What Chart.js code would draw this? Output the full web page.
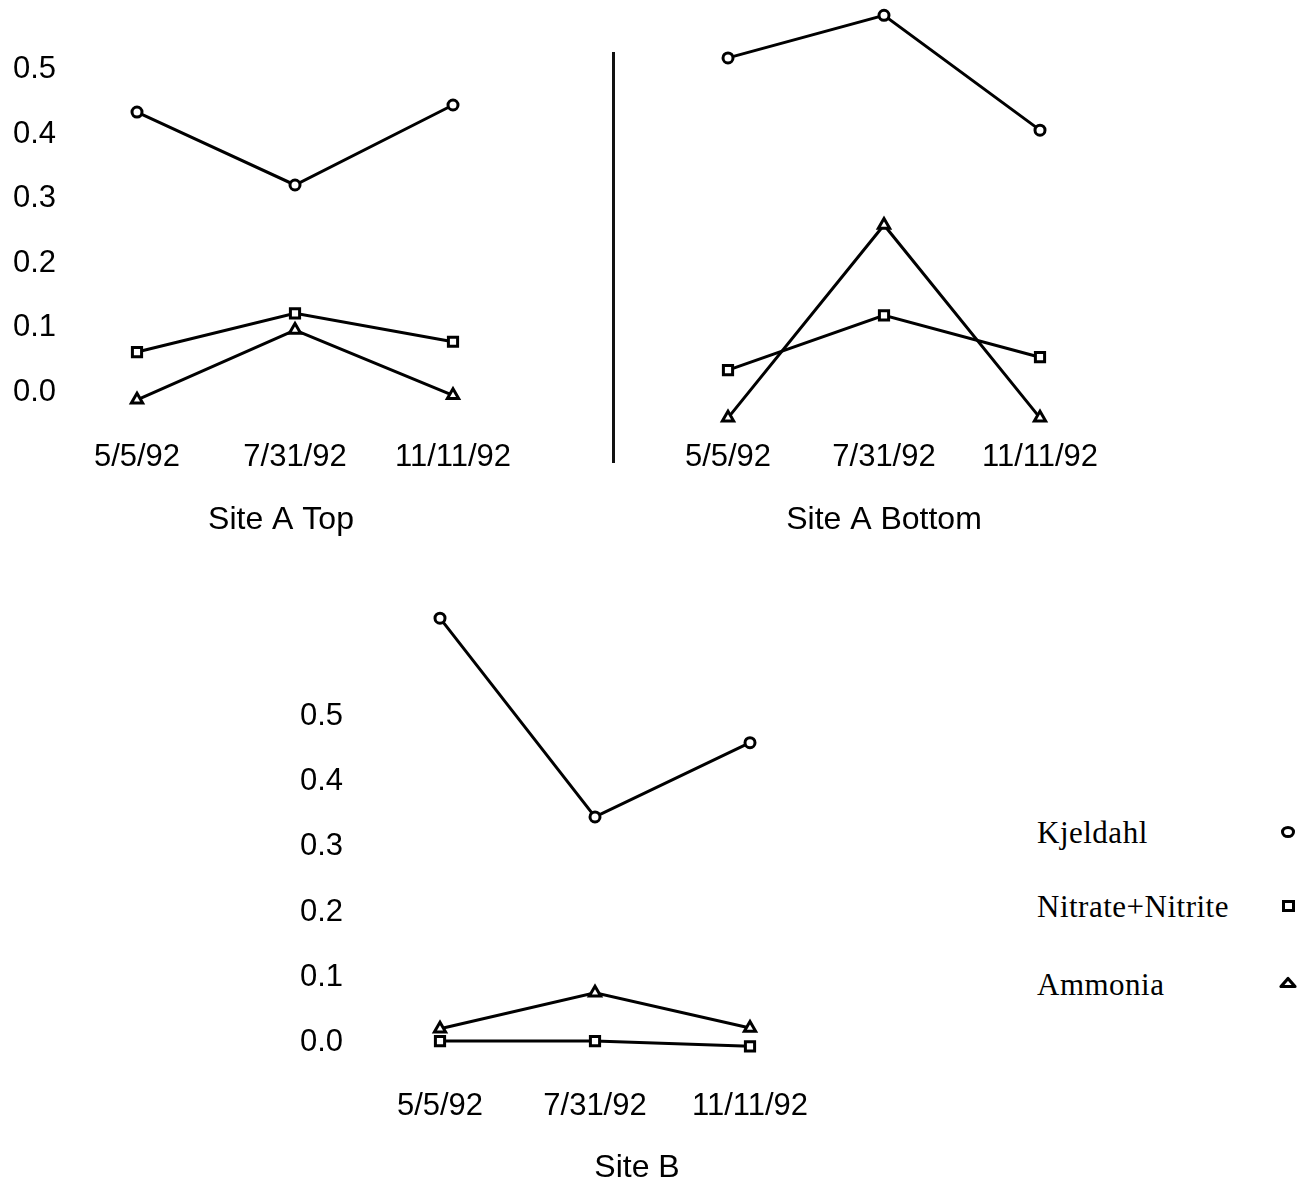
<!DOCTYPE html>
<html>
<head>
<meta charset="utf-8">
<script src="https://cdn.jsdelivr.net/npm/chart.js@4.4.1/dist/chart.umd.min.js"></script>
<style>
  html, body { margin: 0; padding: 0; background: #fff; overflow: hidden; }
  #wrap { position: relative; width: 1312px; height: 1181px; background: #fff; overflow: hidden; }
  canvas { position: absolute; }
  .divider { position: absolute; left: 612px; top: 52px; width: 3px; height: 411px; background: #111; }
  .leg { position: absolute; left: 1037px; font-family: 'Liberation Serif', 'Times New Roman', serif;
         font-size: 31px; line-height: 31px; letter-spacing: 0.5px; color: #000; white-space: nowrap; }
  .legmark { position: absolute; left: 1276px; width: 24px; height: 24px; }
</style>
</head>
<body>
<div id="wrap">
  <canvas id="c1" width="560" height="560" style="left:0px;top:0px;"></canvas>
  <canvas id="c2" width="560" height="560" style="left:600px;top:0px;"></canvas>
  <canvas id="c3" width="720" height="621" style="left:280px;top:563px;"></canvas>
  <div class="divider"></div>
  <div class="leg" id="leg0" style="top:817px;"></div>
  <div class="leg" id="leg1" style="top:891px;"></div>
  <div class="leg" id="leg2" style="top:969px;"></div>
  <svg class="legmark" style="top:820px;" viewBox="0 0 24 24"><ellipse cx="12" cy="12" rx="5.5" ry="4.6" fill="#fff" stroke="#000" stroke-width="3"/></svg>
  <svg class="legmark" style="top:894px;" viewBox="0 0 24 24"><rect x="7.5" y="7.5" width="10" height="9" fill="#fff" stroke="#000" stroke-width="3"/></svg>
  <svg class="legmark" style="top:970px;" viewBox="0 0 24 24"><polygon points="5,16.5 19,16.5 12,8.5" fill="#fff" stroke="#000" stroke-width="3.2" stroke-linejoin="round"/></svg>
</div>
<script>
// ---------- data ----------
const dates = ['5/5/92', '7/31/92', '11/11/92'];
const yTickValues = [0, 0.1, 0.2, 0.3, 0.4, 0.5];
const seriesNames = ['Kjeldahl', 'Nitrate+Nitrite', 'Ammonia'];
const panelTitles = ['Site A Top', 'Site A Bottom', 'Site B'];

const siteATopKjeldahl = [0.434, 0.321, 0.445];
const siteATopNitrate  = [0.062, 0.122, 0.078];
const siteATopAmmonia  = [-0.012, 0.096, -0.005];

const siteABottomKjeldahl = [0.518, 0.584, 0.406];
const siteABottomNitrate  = [0.034, 0.119, 0.054];
const siteABottomAmmonia  = [-0.040, 0.259, -0.040];

const siteBKjeldahl = [0.651, 0.346, 0.460];
const siteBNitrate  = [0.002, 0.002, -0.006];
const siteBAmmonia  = [0.021, 0.076, 0.022];

// ---------- styling ----------
const SANS = "'Liberation Sans', Arial, Helvetica, sans-serif";
Chart.defaults.color = '#000';
Chart.defaults.font.family = SANS;

document.getElementById('leg0').textContent = seriesNames[0];
document.getElementById('leg1').textContent = seriesNames[1];
document.getElementById('leg2').textContent = seriesNames[2];

function ds(label, data, style, radius) {
  return {
    label: label, data: data,
    borderColor: '#000', borderWidth: 3, tension: 0, fill: false, clip: false,
    pointStyle: style, pointRadius: radius, pointHoverRadius: radius,
    pointBackgroundColor: '#fff', pointBorderColor: '#000', pointBorderWidth: 3
  };
}

function makeChart(id, kj, ni, am, title, cfg) {
  const scales = {
    x: {
      type: 'category', offset: true,
      grid: { display: false, drawTicks: false }, border: { display: false },
      ticks: { padding: cfg.xPad, maxRotation: 0, autoSkip: false,
               font: { size: 31, family: SANS, lineHeight: 1 }, color: '#000' },
      afterFit: s => { s.height = 55; }
    },
    y: {
      type: 'linear', min: cfg.yMin, max: cfg.yMax, display: cfg.showY,
      grid: { display: false, drawTicks: false }, border: { display: false },
      afterBuildTicks: s => { s.ticks = yTickValues.map(v => ({ value: v })); },
      ticks: { padding: cfg.yPad, mirror: !!cfg.mirror, autoSkip: false,
               font: { size: 31, family: SANS, lineHeight: 1 }, color: '#000',
               callback: v => v.toFixed(1) },
      afterFit: s => { s.width = cfg.yWidth; }
    }
  };
  if (cfg.rightSpace) {
    scales.yPad = {
      type: 'linear', position: 'right', display: true,
      grid: { display: false, drawTicks: false }, border: { display: false },
      ticks: { display: false },
      afterFit: s => { s.width = cfg.rightSpace; }
    };
  }
  return new Chart(document.getElementById(id), {
    type: 'line',
    data: {
      labels: dates,
      datasets: [
        ds(seriesNames[0], kj, 'circle', 5),
        ds(seriesNames[1], ni, 'rect', 6.5),
        ds(seriesNames[2], am, 'triangle', 6.5)
      ]
    },
    options: {
      responsive: false, animation: false, devicePixelRatio: 1,
      layout: { padding: cfg.padding, autoPadding: false },
      plugins: {
        legend: { display: false },
        tooltip: { enabled: false },
        title: { display: true, position: 'bottom', text: title, color: '#000',
                 font: { size: 32, family: SANS, weight: 'normal', lineHeight: 1 },
                 padding: { top: cfg.titlePad, bottom: 0 } }
      },
      scales: scales
    }
  });
}

makeChart('c1', siteATopKjeldahl, siteATopNitrate, siteATopAmmonia, panelTitles[0], {
  yMin: -0.07, yMax: 0.6, showY: true, yWidth: 28, yPad: -45, mirror: true, xPad: 5, titlePad: 12,
  padding: { left: 30, right: 28, top: 5, bottom: 23.8 }
});

makeChart('c2', siteABottomKjeldahl, siteABottomNitrate, siteABottomAmmonia, panelTitles[1], {
  yMin: -0.07, yMax: 0.6, showY: false, yWidth: 0, yPad: 2, xPad: 5, titlePad: 12,
  padding: { left: 50, right: 42, top: 5, bottom: 23.8 }
});

makeChart('c3', siteBKjeldahl, siteBNitrate, siteBAmmonia, panelTitles[2], {
  yMin: -0.07, yMax: 0.68, showY: true, yWidth: 82.5, yPad: 19.5, xPad: 3, titlePad: 9,
  rightSpace: 166.5,
  padding: { left: 0, right: 6, top: 36.3, bottom: 0 }
});
</script>
</body>
</html>
